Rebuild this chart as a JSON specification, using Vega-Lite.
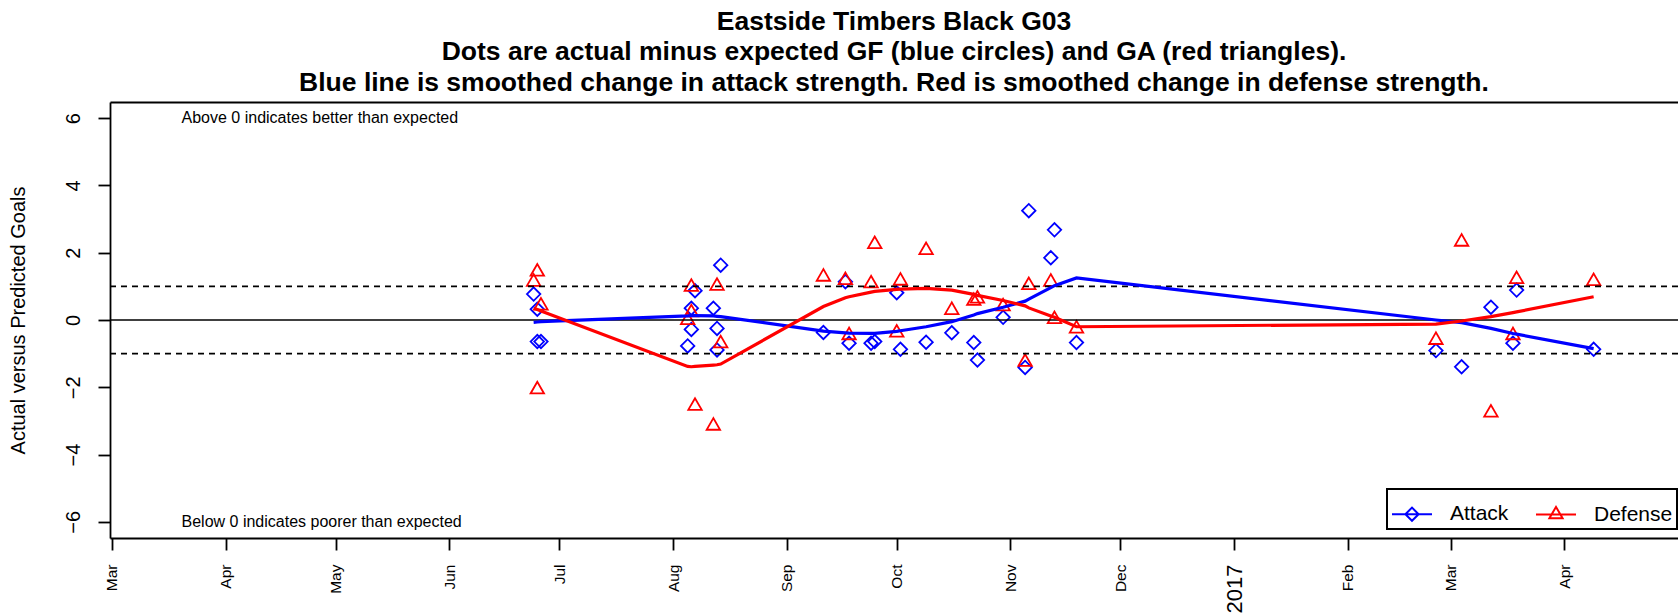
{
  "$schema": "https://vega.github.io/schema/vega-lite/v6.json",
  "width": 1568,
  "height": 436,
  "autosize": "none",
  "padding": {"left": 110, "top": 102, "right": 0, "bottom": 76},
  "background": "white",
  "config": {
    "view": {"stroke": null},
    "font": "Liberation Sans",
    "axis": {"labelFont": "Liberation Sans", "titleFont": "Liberation Sans"},
    "legend": {"labelFont": "Liberation Sans", "strokeWidth": 2}
  },
  "title": {
    "text": [
      "Eastside Timbers Black G03",
      "Dots are actual minus expected GF (blue circles) and GA (red triangles).",
      "Blue line is smoothed change in attack strength. Red is smoothed change in defense strength."
    ],
    "fontSize": 26.5,
    "fontWeight": "bold",
    "font": "Liberation Sans",
    "lineHeight": 30.5,
    "anchor": "middle",
    "offset": 6,
    "color": "black"
  },
  "datasets": {
    "zero": [{"level": 0}],
    "bands": [{"level": 1}, {"level": -1}],
    "notes": [
      {"date": "2016-03-20T00:00:00", "y": 6, "label": "Above 0 indicates better than expected"},
      {"date": "2016-03-20T00:00:00", "y": -6, "label": "Below 0 indicates poorer than expected"}
    ],
    "games": [
      {"date": "2016-06-24T00:00:00", "series": "Attack", "resid": 0.77},
      {"date": "2016-06-25T00:00:00", "series": "Attack", "resid": 0.32},
      {"date": "2016-06-25T00:00:00", "series": "Attack", "resid": -0.64},
      {"date": "2016-06-26T00:00:00", "series": "Attack", "resid": -0.64},
      {"date": "2016-08-05T00:00:00", "series": "Attack", "resid": -0.77},
      {"date": "2016-08-06T00:00:00", "series": "Attack", "resid": 0.35},
      {"date": "2016-08-06T00:00:00", "series": "Attack", "resid": -0.28},
      {"date": "2016-08-07T00:00:00", "series": "Attack", "resid": 0.87},
      {"date": "2016-08-12T00:00:00", "series": "Attack", "resid": 0.35},
      {"date": "2016-08-13T00:00:00", "series": "Attack", "resid": -0.25},
      {"date": "2016-08-13T00:00:00", "series": "Attack", "resid": -0.89},
      {"date": "2016-08-14T00:00:00", "series": "Attack", "resid": 1.63},
      {"date": "2016-09-11T00:00:00", "series": "Attack", "resid": -0.37},
      {"date": "2016-09-17T00:00:00", "series": "Attack", "resid": 1.14},
      {"date": "2016-09-18T00:00:00", "series": "Attack", "resid": -0.69},
      {"date": "2016-09-24T00:00:00", "series": "Attack", "resid": -0.69},
      {"date": "2016-09-25T00:00:00", "series": "Attack", "resid": -0.64},
      {"date": "2016-10-01T00:00:00", "series": "Attack", "resid": 0.81},
      {"date": "2016-10-02T00:00:00", "series": "Attack", "resid": -0.87},
      {"date": "2016-10-09T00:00:00", "series": "Attack", "resid": -0.66},
      {"date": "2016-10-16T00:00:00", "series": "Attack", "resid": -0.38},
      {"date": "2016-10-22T00:00:00", "series": "Attack", "resid": -0.67},
      {"date": "2016-10-23T00:00:00", "series": "Attack", "resid": -1.19},
      {"date": "2016-10-30T00:00:00", "series": "Attack", "resid": 0.08},
      {"date": "2016-11-05T00:00:00", "series": "Attack", "resid": -1.41},
      {"date": "2016-11-06T00:00:00", "series": "Attack", "resid": 3.25},
      {"date": "2016-11-12T00:00:00", "series": "Attack", "resid": 1.85},
      {"date": "2016-11-13T00:00:00", "series": "Attack", "resid": 2.68},
      {"date": "2016-11-19T00:00:00", "series": "Attack", "resid": -0.67},
      {"date": "2017-02-25T00:00:00", "series": "Attack", "resid": -0.91},
      {"date": "2017-03-04T00:00:00", "series": "Attack", "resid": -1.39},
      {"date": "2017-03-12T00:00:00", "series": "Attack", "resid": 0.38},
      {"date": "2017-03-18T00:00:00", "series": "Attack", "resid": -0.69},
      {"date": "2017-03-19T00:00:00", "series": "Attack", "resid": 0.89},
      {"date": "2017-04-09T00:00:00", "series": "Attack", "resid": -0.87},
      {"date": "2016-06-24T00:00:00", "series": "Defense", "resid": 1.19},
      {"date": "2016-06-25T00:00:00", "series": "Defense", "resid": 1.49},
      {"date": "2016-06-25T00:00:00", "series": "Defense", "resid": -2.01},
      {"date": "2016-06-26T00:00:00", "series": "Defense", "resid": 0.48},
      {"date": "2016-08-05T00:00:00", "series": "Defense", "resid": 0.05},
      {"date": "2016-08-06T00:00:00", "series": "Defense", "resid": 1.04},
      {"date": "2016-08-06T00:00:00", "series": "Defense", "resid": 0.28},
      {"date": "2016-08-07T00:00:00", "series": "Defense", "resid": -2.5},
      {"date": "2016-08-12T00:00:00", "series": "Defense", "resid": -3.09},
      {"date": "2016-08-13T00:00:00", "series": "Defense", "resid": 1.07},
      {"date": "2016-08-14T00:00:00", "series": "Defense", "resid": -0.64},
      {"date": "2016-09-11T00:00:00", "series": "Defense", "resid": 1.34},
      {"date": "2016-09-17T00:00:00", "series": "Defense", "resid": 1.24},
      {"date": "2016-09-18T00:00:00", "series": "Defense", "resid": -0.4},
      {"date": "2016-09-24T00:00:00", "series": "Defense", "resid": 1.14},
      {"date": "2016-09-25T00:00:00", "series": "Defense", "resid": 2.31},
      {"date": "2016-10-01T00:00:00", "series": "Defense", "resid": -0.32},
      {"date": "2016-10-02T00:00:00", "series": "Defense", "resid": 1.22},
      {"date": "2016-10-09T00:00:00", "series": "Defense", "resid": 2.13},
      {"date": "2016-10-16T00:00:00", "series": "Defense", "resid": 0.35},
      {"date": "2016-10-22T00:00:00", "series": "Defense", "resid": 0.62},
      {"date": "2016-10-23T00:00:00", "series": "Defense", "resid": 0.69},
      {"date": "2016-10-30T00:00:00", "series": "Defense", "resid": 0.46},
      {"date": "2016-11-05T00:00:00", "series": "Defense", "resid": -1.19},
      {"date": "2016-11-06T00:00:00", "series": "Defense", "resid": 1.09},
      {"date": "2016-11-12T00:00:00", "series": "Defense", "resid": 1.19},
      {"date": "2016-11-13T00:00:00", "series": "Defense", "resid": 0.08},
      {"date": "2016-11-19T00:00:00", "series": "Defense", "resid": -0.2},
      {"date": "2017-02-25T00:00:00", "series": "Defense", "resid": -0.54},
      {"date": "2017-03-04T00:00:00", "series": "Defense", "resid": 2.38},
      {"date": "2017-03-12T00:00:00", "series": "Defense", "resid": -2.7},
      {"date": "2017-03-18T00:00:00", "series": "Defense", "resid": -0.4},
      {"date": "2017-03-19T00:00:00", "series": "Defense", "resid": 1.27},
      {"date": "2017-04-09T00:00:00", "series": "Defense", "resid": 1.21}
    ],
    "smooth": [
      {"date": "2016-06-24T00:00:00", "series": "Attack", "fit": -0.07},
      {"date": "2016-06-25T00:00:00", "series": "Attack", "fit": -0.06},
      {"date": "2016-06-26T00:00:00", "series": "Attack", "fit": -0.05},
      {"date": "2016-08-05T00:00:00", "series": "Attack", "fit": 0.12},
      {"date": "2016-08-06T00:00:00", "series": "Attack", "fit": 0.13},
      {"date": "2016-08-07T00:00:00", "series": "Attack", "fit": 0.13},
      {"date": "2016-08-12T00:00:00", "series": "Attack", "fit": 0.12},
      {"date": "2016-08-13T00:00:00", "series": "Attack", "fit": 0.11},
      {"date": "2016-08-14T00:00:00", "series": "Attack", "fit": 0.1},
      {"date": "2016-09-11T00:00:00", "series": "Attack", "fit": -0.33},
      {"date": "2016-09-17T00:00:00", "series": "Attack", "fit": -0.38},
      {"date": "2016-09-18T00:00:00", "series": "Attack", "fit": -0.39},
      {"date": "2016-09-24T00:00:00", "series": "Attack", "fit": -0.4},
      {"date": "2016-09-25T00:00:00", "series": "Attack", "fit": -0.4},
      {"date": "2016-10-01T00:00:00", "series": "Attack", "fit": -0.34},
      {"date": "2016-10-02T00:00:00", "series": "Attack", "fit": -0.32},
      {"date": "2016-10-09T00:00:00", "series": "Attack", "fit": -0.2},
      {"date": "2016-10-16T00:00:00", "series": "Attack", "fit": -0.05},
      {"date": "2016-10-22T00:00:00", "series": "Attack", "fit": 0.15},
      {"date": "2016-10-23T00:00:00", "series": "Attack", "fit": 0.19},
      {"date": "2016-10-30T00:00:00", "series": "Attack", "fit": 0.38},
      {"date": "2016-11-05T00:00:00", "series": "Attack", "fit": 0.56},
      {"date": "2016-11-06T00:00:00", "series": "Attack", "fit": 0.62},
      {"date": "2016-11-12T00:00:00", "series": "Attack", "fit": 0.96},
      {"date": "2016-11-13T00:00:00", "series": "Attack", "fit": 1.02},
      {"date": "2016-11-19T00:00:00", "series": "Attack", "fit": 1.25},
      {"date": "2017-02-25T00:00:00", "series": "Attack", "fit": 0.0},
      {"date": "2017-03-04T00:00:00", "series": "Attack", "fit": -0.08},
      {"date": "2017-03-12T00:00:00", "series": "Attack", "fit": -0.25},
      {"date": "2017-03-18T00:00:00", "series": "Attack", "fit": -0.4},
      {"date": "2017-03-19T00:00:00", "series": "Attack", "fit": -0.42},
      {"date": "2017-04-09T00:00:00", "series": "Attack", "fit": -0.85},
      {"date": "2016-06-24T00:00:00", "series": "Defense", "fit": 0.35},
      {"date": "2016-06-25T00:00:00", "series": "Defense", "fit": 0.31},
      {"date": "2016-06-26T00:00:00", "series": "Defense", "fit": 0.27},
      {"date": "2016-08-05T00:00:00", "series": "Defense", "fit": -1.38},
      {"date": "2016-08-06T00:00:00", "series": "Defense", "fit": -1.39},
      {"date": "2016-08-07T00:00:00", "series": "Defense", "fit": -1.38},
      {"date": "2016-08-12T00:00:00", "series": "Defense", "fit": -1.34},
      {"date": "2016-08-13T00:00:00", "series": "Defense", "fit": -1.33},
      {"date": "2016-08-14T00:00:00", "series": "Defense", "fit": -1.31},
      {"date": "2016-09-11T00:00:00", "series": "Defense", "fit": 0.4},
      {"date": "2016-09-17T00:00:00", "series": "Defense", "fit": 0.66},
      {"date": "2016-09-18T00:00:00", "series": "Defense", "fit": 0.69},
      {"date": "2016-09-24T00:00:00", "series": "Defense", "fit": 0.83},
      {"date": "2016-09-25T00:00:00", "series": "Defense", "fit": 0.85},
      {"date": "2016-10-01T00:00:00", "series": "Defense", "fit": 0.91},
      {"date": "2016-10-02T00:00:00", "series": "Defense", "fit": 0.92},
      {"date": "2016-10-09T00:00:00", "series": "Defense", "fit": 0.94},
      {"date": "2016-10-16T00:00:00", "series": "Defense", "fit": 0.89},
      {"date": "2016-10-22T00:00:00", "series": "Defense", "fit": 0.76},
      {"date": "2016-10-23T00:00:00", "series": "Defense", "fit": 0.73},
      {"date": "2016-10-30T00:00:00", "series": "Defense", "fit": 0.58},
      {"date": "2016-11-05T00:00:00", "series": "Defense", "fit": 0.42},
      {"date": "2016-11-06T00:00:00", "series": "Defense", "fit": 0.36},
      {"date": "2016-11-12T00:00:00", "series": "Defense", "fit": 0.12},
      {"date": "2016-11-13T00:00:00", "series": "Defense", "fit": 0.08},
      {"date": "2016-11-19T00:00:00", "series": "Defense", "fit": -0.2},
      {"date": "2017-02-25T00:00:00", "series": "Defense", "fit": -0.12},
      {"date": "2017-03-04T00:00:00", "series": "Defense", "fit": -0.03},
      {"date": "2017-03-12T00:00:00", "series": "Defense", "fit": 0.1},
      {"date": "2017-03-18T00:00:00", "series": "Defense", "fit": 0.22},
      {"date": "2017-03-19T00:00:00", "series": "Defense", "fit": 0.24},
      {"date": "2017-04-09T00:00:00", "series": "Defense", "fit": 0.69}
    ]
  },
  "layer": [
    {
      "data": {"name": "games"},
      "mark": {"type": "point", "filled": false, "opacity": 0},
      "encoding": {
        "x": {"field": "date", "type": "temporal", "scale": {"domain": [{"year": 2016, "month": 2, "date": 29, "hours": 12}, {"year": 2017, "month": 5, "date": 2}]}, "axis": null},
        "y": {"field": "resid", "type": "quantitative", "scale": {"domain": [-6.48, 6.48], "nice": false, "zero": false}},
        "color": {
          "field": "series", "type": "nominal",
          "scale": {"domain": ["Attack", "Defense"], "range": ["#0000ff", "#ff0000"]},
          "legend": {
            "title": null, "orient": "none", "legendX": 1277, "legendY": 387,
            "direction": "horizontal", "padding": 4,
            "strokeColor": "black", "fillColor": "white",
            "labelFontSize": 21, "labelColor": "black", "labelOffset": 17, "columnPadding": 23,
            "symbolSize": 1600, "symbolStrokeWidth": 2, "symbolOpacity": 1
          }
        },
        "shape": {
          "field": "series", "type": "nominal",
          "scale": {"domain": ["Attack", "Defense"], "range": ["M-1,0H1M-0.33,0L0,-0.33L0.33,0L0,0.33Z", "M-1,0H1M-0.33,0.19L0,-0.38L0.33,0.19Z"]},
          "legend": {
            "title": null, "orient": "none", "legendX": 1277, "legendY": 387,
            "direction": "horizontal", "padding": 4,
            "strokeColor": "black", "fillColor": "white",
            "labelFontSize": 21, "labelColor": "black", "labelOffset": 17, "columnPadding": 23,
            "symbolSize": 1600, "symbolStrokeWidth": 2, "symbolOpacity": 1
          }
        }
      }
    },
    {
      "data": {"name": "games"},
      "transform": [{"filter": "datum.series === 'Attack'"}],
      "mark": {"type": "point", "shape": "diamond", "filled": false, "size": 180, "strokeWidth": 1.8, "opacity": 1},
      "encoding": {
        "x": {
          "field": "date", "type": "temporal",
          "scale": {"domain": [{"year": 2016, "month": 2, "date": 29, "hours": 12}, {"year": 2017, "month": 5, "date": 2}]},
          "axis": {
            "orient": "bottom",
            "values": [
              {"year": 2016, "month": 3, "date": 1}, {"year": 2016, "month": 4, "date": 1},
              {"year": 2016, "month": 5, "date": 1}, {"year": 2016, "month": 6, "date": 1},
              {"year": 2016, "month": 7, "date": 1}, {"year": 2016, "month": 8, "date": 1},
              {"year": 2016, "month": 9, "date": 1}, {"year": 2016, "month": 10, "date": 1},
              {"year": 2016, "month": 11, "date": 1}, {"year": 2016, "month": 12, "date": 1},
              {"year": 2017, "month": 1, "date": 1}, {"year": 2017, "month": 2, "date": 1},
              {"year": 2017, "month": 3, "date": 1}, {"year": 2017, "month": 4, "date": 1}
            ],
            "labelExpr": "month(datum.value) == 0 ? timeFormat(datum.value, '%Y') : timeFormat(datum.value, '%b')",
            "labelAngle": -90,
            "labelAlign": "right",
            "labelBaseline": "middle",
            "labelFontSize": {"condition": {"test": "month(datum.value) == 0", "value": 22}, "value": 15.5},
            "labelColor": "black",
            "labelPadding": 14,
            "labelOverlap": false,
            "labelFlush": false,
            "labelBound": false,
            "tickSize": 12, "tickWidth": 1.8, "tickColor": "black",
            "domainColor": "black", "domainWidth": 1.8,
            "grid": false, "title": null
          }
        },
        "y": {
          "field": "resid", "type": "quantitative",
          "scale": {"domain": [-6.48, 6.48], "nice": false, "zero": false},
          "axis": {
            "values": [-6, -4, -2, 0, 2, 4, 6],
            "labelAngle": -90,
            "labelAlign": "center",
            "labelBaseline": "middle",
            "labelFontSize": 20,
            "labelColor": "black",
            "labelPadding": 25,
            "labelFlush": false,
            "tickSize": 12, "tickWidth": 1.8, "tickColor": "black",
            "domainColor": "black", "domainWidth": 1.8,
            "grid": false,
            "title": "Actual versus Predicted Goals",
            "titleFontSize": 20,
            "titleFontWeight": "normal",
            "titleColor": "black",
            "titleAngle": -90,
            "titleAlign": "center",
            "titleBaseline": "middle",
            "titleX": -92,
            "titleY": 218
          }
        },
        "color": {"field": "series", "type": "nominal", "scale": {"domain": ["Attack", "Defense"], "range": ["#0000ff", "#ff0000"]}, "legend": null}
      }
    },
    {
      "data": {"name": "games"},
      "transform": [{"filter": "datum.series === 'Defense'"}],
      "mark": {"type": "point", "shape": "triangle-up", "filled": false, "size": 180, "strokeWidth": 1.8, "opacity": 1},
      "encoding": {
        "x": {"field": "date", "type": "temporal", "scale": {"domain": [{"year": 2016, "month": 2, "date": 29, "hours": 12}, {"year": 2017, "month": 5, "date": 2}]}, "axis": null},
        "y": {"field": "resid", "type": "quantitative", "scale": {"domain": [-6.48, 6.48], "nice": false, "zero": false}},
        "color": {"field": "series", "type": "nominal", "scale": {"domain": ["Attack", "Defense"], "range": ["#0000ff", "#ff0000"]}, "legend": null}
      }
    },
    {
      "data": {"name": "zero"},
      "mark": {"type": "rule", "color": "black", "strokeWidth": 1.7},
      "encoding": {
        "y": {"field": "level", "type": "quantitative", "scale": {"domain": [-6.48, 6.48], "nice": false, "zero": false}}
      }
    },
    {
      "data": {"name": "bands"},
      "mark": {"type": "rule", "color": "black", "strokeWidth": 1.7, "strokeDash": [6, 5]},
      "encoding": {
        "y": {"field": "level", "type": "quantitative", "scale": {"domain": [-6.48, 6.48], "nice": false, "zero": false}}
      }
    },
    {
      "data": {"name": "smooth"},
      "mark": {"type": "line", "strokeWidth": 3.2},
      "encoding": {
        "x": {"field": "date", "type": "temporal", "scale": {"domain": [{"year": 2016, "month": 2, "date": 29, "hours": 12}, {"year": 2017, "month": 5, "date": 2}]}, "axis": null},
        "y": {"field": "fit", "type": "quantitative", "scale": {"domain": [-6.48, 6.48], "nice": false, "zero": false}},
        "color": {"field": "series", "type": "nominal", "scale": {"domain": ["Attack", "Defense"], "range": ["#0000ff", "#ff0000"]}, "legend": null}
      }
    },
    {
      "data": {"name": "notes"},
      "mark": {"type": "text", "align": "left", "baseline": "middle", "fontSize": 16, "font": "Liberation Sans", "color": "black"},
      "encoding": {
        "x": {
          "field": "date", "type": "temporal",
          "scale": {"domain": [{"year": 2016, "month": 2, "date": 29, "hours": 12}, {"year": 2017, "month": 5, "date": 2}]},
          "axis": {"orient": "top", "labels": false, "ticks": false, "domain": true, "domainColor": "black", "domainWidth": 1.8, "grid": false, "title": null}
        },
        "y": {"field": "y", "type": "quantitative", "scale": {"domain": [-6.48, 6.48], "nice": false, "zero": false}},
        "text": {"field": "label"}
      }
    }
  ],
  "resolve": {"axis": {"x": "independent"}}
}
